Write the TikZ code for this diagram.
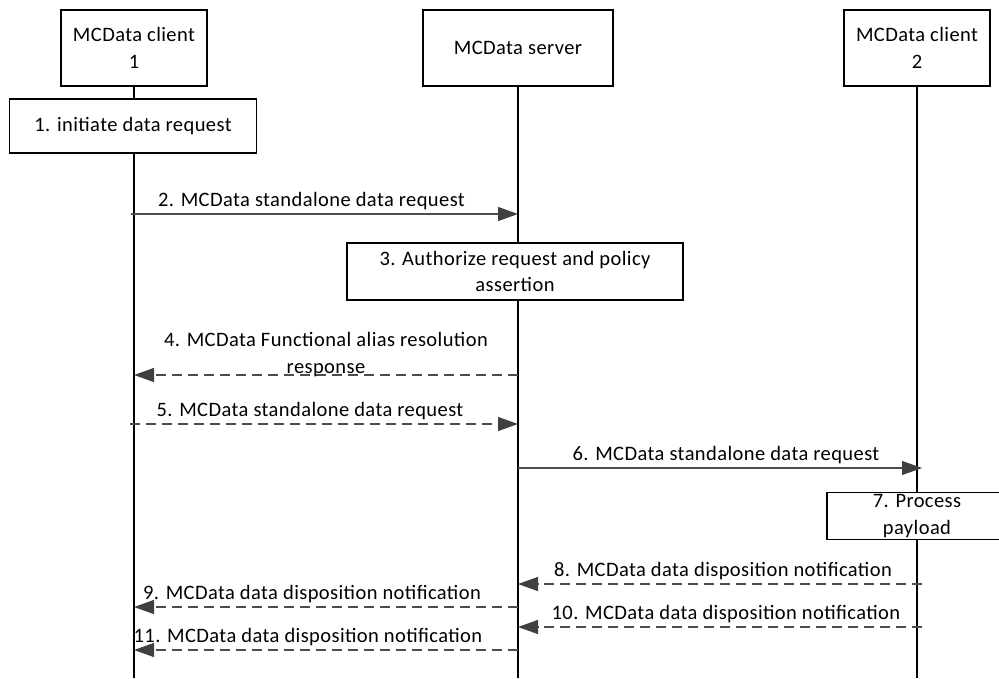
\documentclass[tikz,border=0pt]{standalone}
\usepackage{fontspec}
\setmainfont{Carlito}[LetterSpace=2]
\usetikzlibrary{positioning,arrows.meta,calc}
\tikzset{
  entity/.style={draw=black, line width=1.2pt, fill=white, align=center,
    minimum height=76pt, inner sep=2pt},
  action/.style={draw=black, line width=1.2pt, fill=white, align=center, inner sep=2pt},
  lifeline/.style={line width=1.3pt, draw=black},
  msg/.style={line width=1.1pt, draw=black!70,
    -{Triangle[length=20pt,width=14pt,fill=black!75,color=black!75]}},
  reply/.style={msg, dash pattern=on 10pt off 6pt},
  msglabel/.style={above, inner sep=0pt, align=center, yshift=4pt}
}

\begin{document}
\begin{tikzpicture}[x=1pt, y=-1pt, font=\fontsize{20.5}{26.5}\selectfont]
    \useasboundingbox (0,0) rectangle (999,678);
    % entities
    \node[entity, minimum width=146pt] (c1) at (134,48) {MCData client\\1};
    \node[entity, minimum width=190pt] (srv) at (518,48) {MCData server};
    \node[entity, minimum width=146pt] (c2) at (917,48) {MCData client\\2};
    \coordinate (bottom) at (0,678);
    \draw[lifeline] (c1.south) -- (c1.south |- bottom);
    \draw[lifeline] (srv.south) -- (srv.south |- bottom);
    \draw[lifeline] (c2.south) -- (c2.south |- bottom);
    % local actions
    \node[action, minimum width=247pt, minimum height=54pt] (a1) at (133,126) {1. initiate data request};
    \node[action, minimum width=336pt, minimum height=57pt] (a3) at (515,271.5) {3. Authorize request and policy\\assertion};
    \node[action, minimum width=180pt, minimum height=46pt] (a7) at (917,516) {7. Process\\payload};
    % message rows
    \coordinate (r2) at (0,214);
    \coordinate (r4) at (0,375);
    \coordinate (r5) at (0,424);
    \coordinate (r6) at (0,468);
    \coordinate (r8) at (0,584);
    \coordinate (r9) at (0,607);
    \coordinate (r10) at (0,627);
    \coordinate (r11) at (0,650);
    \draw[msg] ($(c1.south |- r2)+(-3,0)$) -- (srv.south |- r2)
      node[msglabel, midway, xshift=-13pt] {2. MCData standalone data request};
    \draw[reply] (srv.south |- r4) -- (c1.south |- r4)
      node[msglabel, midway, yshift=-6pt] {4. MCData Functional alias resolution\\response};
    \draw[reply] ($(c1.south |- r5)+(-4,0)$) -- (srv.south |- r5)
      node[msglabel, midway, xshift=-14pt] {5. MCData standalone data request};
    \draw[msg] (srv.south |- r6) -- ($(c2.south |- r6)+(5,0)$)
      node[msglabel, midway, xshift=6pt] {6. MCData standalone data request};
    \draw[reply] ($(c2.south |- r8)+(5,0)$) -- (srv.south |- r8)
      node[msglabel, midway, xshift=3pt] {8. MCData data disposition notification};
    \draw[reply] (srv.south |- r9) -- (c1.south |- r9)
      node[msglabel, midway, xshift=-14pt] {9. MCData data disposition notification};
    \draw[reply] ($(c2.south |- r10)+(5,0)$) -- (srv.south |- r10)
      node[msglabel, midway, xshift=6pt] {10. MCData data disposition notification};
    \draw[reply] (srv.south |- r11) -- (c1.south |- r11)
      node[msglabel, midway, xshift=-18pt] {11. MCData data disposition notification};
\end{tikzpicture}
\end{document}
